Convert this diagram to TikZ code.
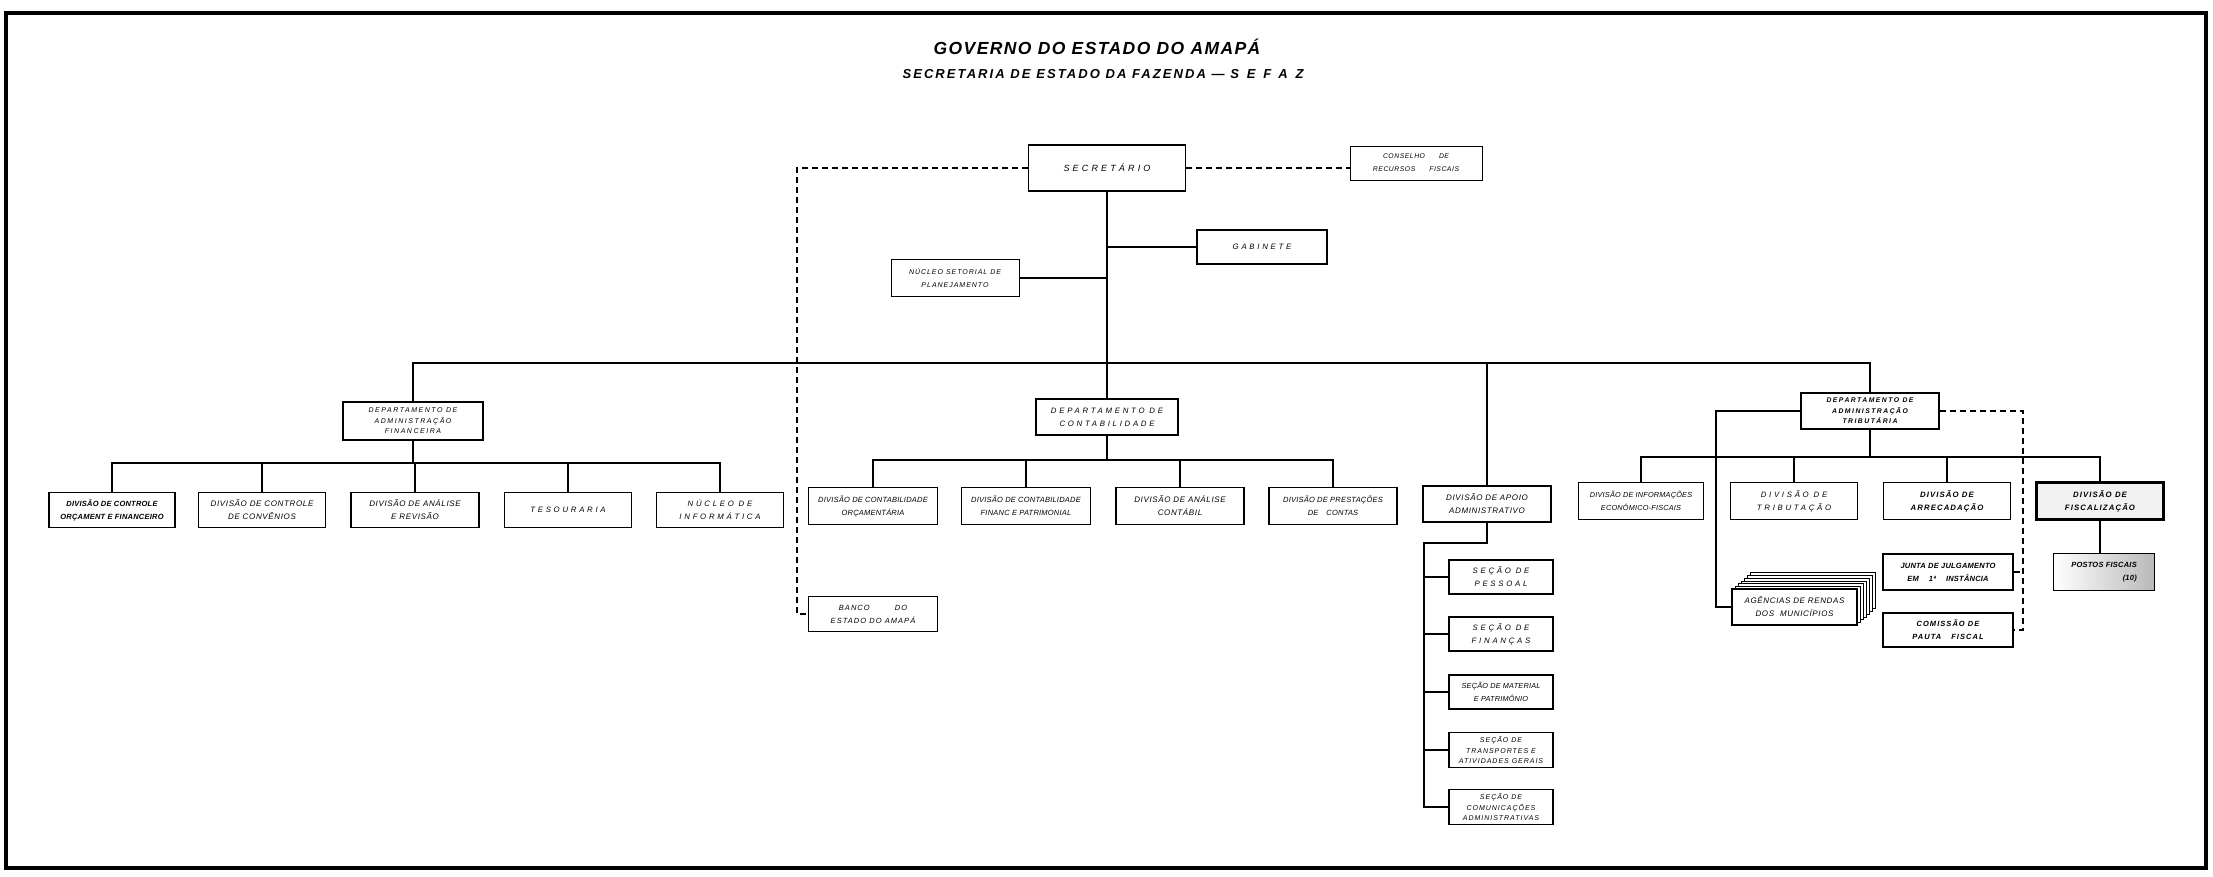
\documentclass[tikz,border=0pt]{standalone}
\usepackage{fontspec}
\setmainfont{Liberation Sans}
\newfontfamily\lblN[LetterSpace=3]{Liberation Sans}
\newfontfamily\lblM[LetterSpace=8]{Liberation Sans}
\newfontfamily\lblS[LetterSpace=14]{Liberation Sans}
\newfontfamily\lblR[LetterSpace=22]{Liberation Sans}
\newfontfamily\lblW[LetterSpace=35]{Liberation Sans}
\newfontfamily\ttlA[LetterSpace=8]{Liberation Sans}
\newfontfamily\ttlB[LetterSpace=16]{Liberation Sans}
\newfontfamily\ttlC[LetterSpace=60]{Liberation Sans}
\newcommand\fntM{\lblM\itshape\fontsize{8}{13}\selectfont}
\newcommand\fntN{\lblN\itshape\fontsize{7.5}{13}\selectfont}
\newcommand\fntB{\lblN\bfseries\itshape\fontsize{7.5}{13}\selectfont}
\newcommand\fntW{\lblW\itshape\fontsize{7.8}{13}\selectfont}
\newcommand\fntT{\lblS\itshape\fontsize{7}{10.5}\selectfont}
\newcommand\fntTB{\lblR\bfseries\itshape\fontsize{6.8}{10.5}\selectfont}
\begin{document}
\begin{tikzpicture}[x=1pt,y=-1pt,
  box/.style={draw,line width=1.3pt,fill=white,inner sep=1pt,align=center,font=\fntM},
  wh/.style 2 args={minimum width=#1pt,minimum height=#2pt},
  ln/.style={line width=1.6pt},
  dsh/.style={line width=1.4pt,dash pattern=on 6pt off 4pt}]
\useasboundingbox (0,0) rectangle (2213,877);
\fill[white] (0,0) rectangle (2213,877);
\draw[line width=4pt] (6,13) rectangle (2206,868);

% titles
\node (t1) at (1097,47) {\ttlA\bfseries\itshape\fontsize{17.5}{20}\selectfont GOVERNO DO ESTADO DO AMAPÁ};
\node (t2) at (1103,74) {\ttlB\bfseries\itshape\fontsize{13}{15}\selectfont SECRETARIA DE ESTADO DA FAZENDA — {\ttlC SEFAZ}};

% top
\node[box,wh={157}{46},font=\lblW\itshape\fontsize{9}{11}\selectfont] (sec) at (1107,168) {SECRETÁRIO};
\node[box,wh={132}{34},line width=0.9pt,font=\lblM\itshape\fontsize{6.8}{13}\selectfont] (cons) at (1416,163) {CONSELHO\hspace{14pt}DE\\RECURSOS\hspace{14pt}FISCAIS};
\node[box,wh={130}{34},font=\fntW] (gab) at (1262,247) {GABINETE};
\node[box,wh={128}{37},line width=0.9pt,font=\lblS\itshape\fontsize{7}{13}\selectfont] (nsp) at (955,278) {NÚCLEO SETORIAL DE\\PLANEJAMENTO};
\node[box,wh={129}{35},line width=0.9pt,font=\lblS\itshape\fontsize{7.5}{13}\selectfont] (banco) at (873,614) {BANCO\hspace{25pt}DO\\ESTADO DO AMAPÁ};

% financeira
\node[box,wh={140}{38},font=\lblR\itshape\fontsize{7}{10.5}\selectfont] (daf) at (413,421) {DEPARTAMENTO DE\\ADMINISTRAÇÃO\\FINANCEIRA};
\node[box,wh={126}{35},line width=1.8pt,font=\fntB] (dcof) at (112,510) {DIVISÃO DE CONTROLE\\ORÇAMENT E FINANCEIRO};
\node[box,wh={127}{35}] (dcc) at (262,510) {DIVISÃO DE CONTROLE\\DE CONVÊNIOS};
\node[box,wh={128}{35}] (dar) at (415,510) {DIVISÃO DE ANÁLISE\\E REVISÃO};
\node[box,wh={127}{35},font=\fntW] (tes) at (568,510) {TESOURARIA};
\node[box,wh={127}{35},font=\fntW] (ni) at (720,510) {NÚCLEO DE\\INFORMÁTICA};

% contabilidade
\node[box,wh={142}{36},font=\fntW] (dc) at (1107,417) {DEPARTAMENTO DE\\CONTABILIDADE};
\node[box,wh={129}{37},font=\fntN] (dco) at (873,506) {DIVISÃO DE CONTABILIDADE\\ORÇAMENTÁRIA};
\node[box,wh={129}{37},font=\fntN] (dcfp) at (1026,506) {DIVISÃO DE CONTABILIDADE\\FINANC E PATRIMONIAL};
\node[box,wh={128}{37}] (dac) at (1180,506) {DIVISÃO DE ANÁLISE\\CONTÁBIL};
\node[box,wh={128}{37},font=\fntN] (dpc) at (1333,506) {DIVISÃO DE PRESTAÇÕES\\DE\hspace{8pt}CONTAS};

% apoio administrativo
\node[box,wh={128}{36}] (daa) at (1487,504) {DIVISÃO DE APOIO\\ADMINISTRATIVO};
\node[box,wh={104}{34},font=\fntW] (sp) at (1501,577) {SEÇÃO DE\\PESSOAL};
\node[box,wh={104}{34},font=\fntW] (sf) at (1501,634) {SEÇÃO DE\\FINANÇAS};
\node[box,wh={104}{34},font=\lblN\itshape\fontsize{7.3}{13}\selectfont] (sm) at (1501,692) {SEÇÃO DE MATERIAL\\E PATRIMÔNIO};
\node[box,wh={104}{35},font=\fntT] (st) at (1501,750) {SEÇÃO DE\\TRANSPORTES E\\ATIVIDADES GERAIS};
\node[box,wh={104}{35},font=\fntT] (scom) at (1501,807) {SEÇÃO DE\\COMUNICAÇÕES\\ADMINISTRATIVAS};

% tributaria
\node[box,wh={138}{36},font=\fntTB] (dat) at (1870,411) {DEPARTAMENTO DE\\ADMINISTRAÇÃO\\TRIBUTÁRIA};
\node[box,wh={125}{37},font=\lblN\itshape\fontsize{7.3}{13}\selectfont] (dief) at (1641,501) {DIVISÃO DE INFORMAÇÕES\\ECONÔMICO-FISCAIS};
\node[box,wh={127}{37},font=\fntW] (dt) at (1794,501) {DIVISÃO DE\\TRIBUTAÇÃO};
\node[box,wh={127}{37},font=\lblS\bfseries\itshape\fontsize{7.8}{13}\selectfont] (da) at (1947,501) {DIVISÃO DE\\ARRECADAÇÃO};
\node[box,wh={127}{37},line width=2.2pt,fill=gray!10,font=\lblS\bfseries\itshape\fontsize{7.8}{13}\selectfont] (df) at (2100,501) {DIVISÃO DE\\FISCALIZAÇÃO};
\node[box,wh={101}{37},line width=1.8pt,left color=white,right color=gray!55,font=\fntB] (pf) at (2104,572) {POSTOS FISCAIS\\\hfill(10)};

\foreach \i in {6,...,1}
  \draw[line width=0.8pt,fill=white] (1732+3*\i,589-2.7*\i) rectangle (1857+3*\i,625-2.7*\i);
\node[box,wh={125}{36}] (ag) at (1794.5,607) {AGÊNCIAS DE RENDAS\\DOS\hspace{6pt}MUNICÍPIOS};
\node[box,wh={130}{36},font=\fntB] (junta) at (1948,572) {JUNTA DE JULGAMENTO\\EM\hspace{10pt}1ª\hspace{10pt}INSTÂNCIA};
\node[box,wh={130}{34},font=\lblS\bfseries\itshape\fontsize{7.5}{13}\selectfont] (com) at (1948,630) {COMISSÃO DE\\PAUTA\hspace{10pt}FISCAL};

% connectors
\coordinate (busR) at (1870,363);
\draw[ln] (daf.north) |- (busR) -- (dat.north);
\draw[ln] (sec.south) -- (dc.north);
\draw[ln] (daa.north) -- (daa.north |- busR);
\draw[ln] (gab.west) -- (gab.west -| sec.south);
\draw[ln] (nsp.east) -- (nsp.east -| sec.south);
\coordinate (bk) at (797,614);
\draw[dsh] (sec.west) -| (bk) -- (banco.west);
\draw[dsh] (sec.east) -- (sec.east -| cons.west);

\coordinate (fb) at (0,463);
\draw[ln] (dcof.north) |- (fb -| ni.north) -- (ni.north);
\foreach \n in {dcc,dar,tes} \draw[ln] (\n.north) -- (\n.north |- fb);
\draw[ln] (daf.south) -- (daf.south |- fb);

\coordinate (cb) at (0,460);
\draw[ln] (dco.north) |- (cb -| dpc.north) -- (dpc.north);
\foreach \n in {dcfp,dac} \draw[ln] (\n.north) -- (\n.north |- cb);
\draw[ln] (dc.south) -- (dc.south |- cb);

\coordinate (tb) at (0,457);
\draw[ln] (dief.north) |- (tb -| df.north) -- (df.north);
\foreach \n in {dt,da} \draw[ln] (\n.north) -- (\n.north |- tb);
\draw[ln] (dat.south) -- (dat.south |- tb);

\coordinate (ak) at (1716,0);
\draw[ln] (dat.west) -| (ak |- ag.west) -- (ag.west);
\coordinate (jk) at (2023,0);
\draw[dsh] (dat.east) -| (jk |- com.east) -- (com.east);
\draw[dsh] (junta.east) -- (junta.east -| jk);
\draw[line width=2.4pt] (df.south) -- (df.south |- pf.north);

\coordinate (sa) at (1424,543);
\draw[ln] (daa.south) |- (sa) |- (scom.west);
\foreach \n in {sp,sf,sm,st} \draw[ln] (\n.west) -- (\n.west -| sa);
\end{tikzpicture}
\end{document}
